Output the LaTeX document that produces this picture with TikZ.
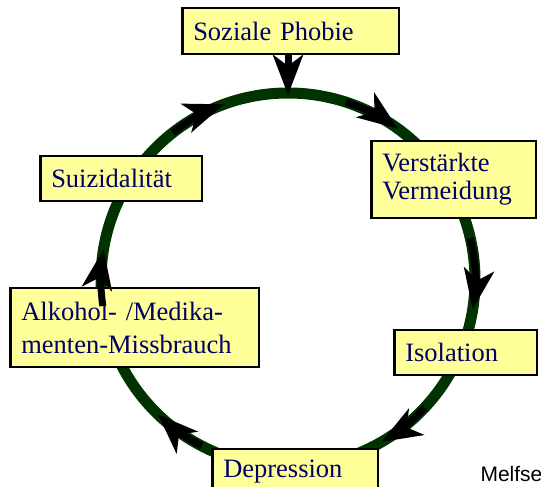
\documentclass[tikz,border=0pt]{standalone}
\usepackage{fontspec}
\setmainfont{Liberation Serif}
\newfontfamily\melfont{Liberation Sans}
\usetikzlibrary{arrows.meta,positioning}
\definecolor{boxfill}{RGB}{255,255,153}
\definecolor{boxtext}{RGB}{0,0,102}
\definecolor{ringgreen}{RGB}{0,51,0}

\begin{document}
\begin{tikzpicture}[x=1pt,y=1pt]
  \tikzset{box/.style={draw=black,line width=2.5pt,fill=boxfill,text=boxtext,
      inner xsep=11pt,align=left,font=\fontsize{26.5}{28}\selectfont}}
  \tikzset{cyc/.style={line width=7pt,-{Stealth[length=40pt 0,width=30pt 0,inset=11pt 0]}}}
  \useasboundingbox (0,0) rectangle (541,487);

  % ring
  \coordinate (C) at (288,207);
  \draw[ringgreen,line width=11pt] (C) circle (187);

  \node[box,text width=194.5pt,minimum height=46pt] (SP) at (290.5,456) {Soziale Phobie};
  \node[box,text width=142.5pt,minimum height=77pt] (VV) at (453.5,307.5) {Verst\"arkte\\Vermeidung};
  \node[box,text width=120.5pt,minimum height=45pt] (IS) at (465.5,134.5) {Isolation};
  \node[box,text width=143.5pt,minimum height=46pt] (DE) at (295,15) {Depression};
  \node[box,text width=226.5pt,minimum height=79pt] (AM) at (134.5,159.5) {Alkohol- /Medika-\\[5pt]menten-Missbrauch};
  \node[box,text width=139.5pt,minimum height=45pt] (SU) at (121,308.5) {Suizidalit\"at};

  \node[anchor=base west,font=\melfont\fontsize{21}{24}\selectfont] (ME) at (477,5) {Melfse};

  % arrows on the ring
  \coordinate (T) at (288,392);
  \draw[cyc] (SP.south -| C) -- (T);
  \draw[cyc] ([shift={(72:187)}]C) arc[start angle=72,end angle=54,radius=187];
  \draw[cyc] ([shift={(13:187)}]C) arc[start angle=13,end angle=-9,radius=187];
  \draw[cyc] ([shift={(-43:187)}]C) arc[start angle=-43,end angle=-60,radius=187];
  \draw[cyc] ([shift={(242.5:187)}]C) arc[start angle=242.5,end angle=226,radius=187];
  \draw[cyc] ([shift={(188:187)}]C) arc[start angle=188,end angle=170.5,radius=187];
  \draw[cyc] ([shift={(128:187)}]C) arc[start angle=128,end angle=110,radius=187];

\end{tikzpicture}
\end{document}
